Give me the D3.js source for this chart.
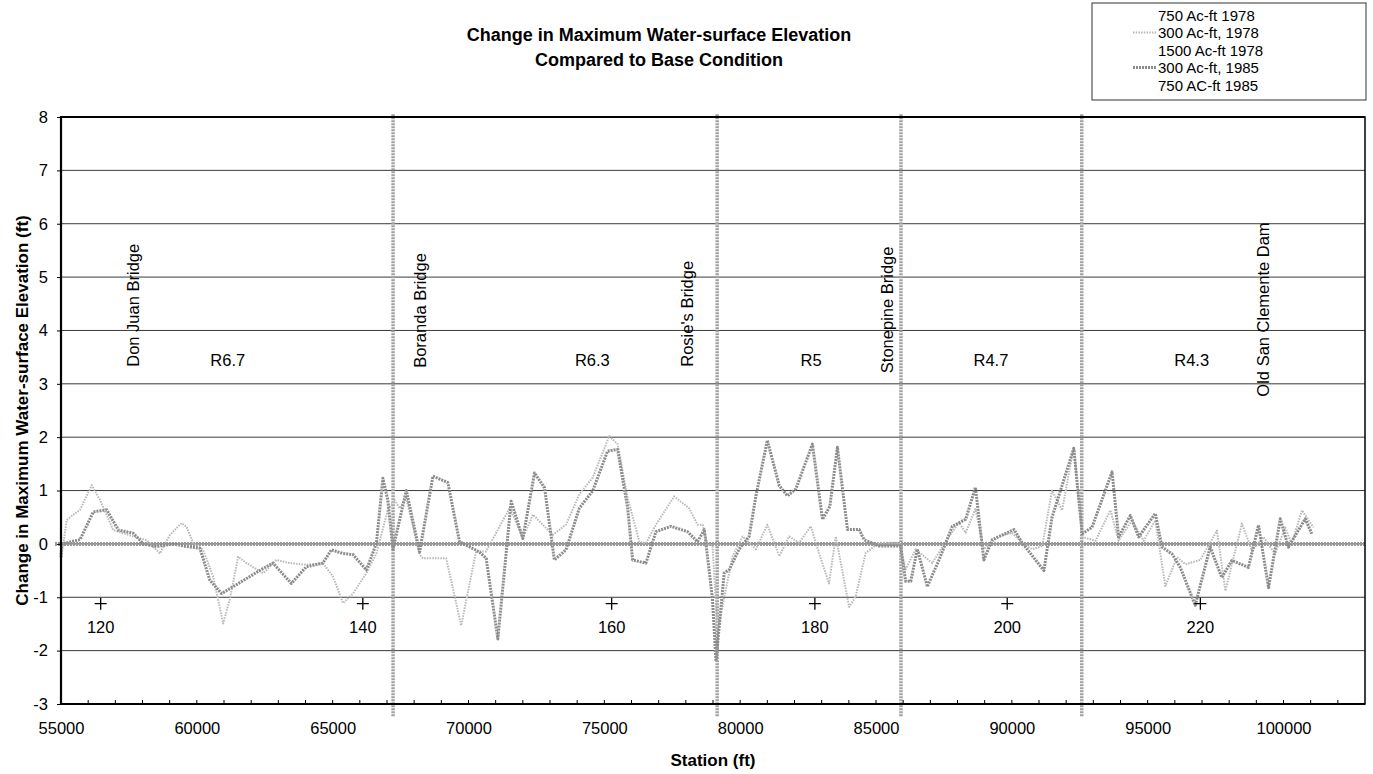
<!DOCTYPE html>
<html>
<head>
<meta charset="utf-8">
<script src="https://cdn.jsdelivr.net/npm/d3@7"></script>
<style>
  body { margin: 0; background: #fff; }
  svg { display: block; font-family: "Liberation Sans", Arial, sans-serif; }
</style>
</head>
<body>
<svg id="chart" width="1373" height="774"></svg>
<script>
// station (ft) and change in max water-surface elevation (ft)
const stations85 = [55000, 55030, 55700, 56190, 56680, 57110, 57660, 58030, 58520, 59130, 59620, 60110, 60480, 60910, 61340, 62440,
  62800, 63480, 64030, 64640, 64950, 65380, 65750, 66240, 66610, 66850, 67030, 67220, 67710, 68200, 68690, 69240, 69670, 70400,
  70650, 71080, 71570, 72000, 72430, 72800, 73160, 73590, 74080, 74570, 75120, 75490, 75860, 76040, 76530, 76900, 77450, 78060,
  78430, 78680, 78980, 79110, 79410, 79600, 79960, 80330, 80580, 81000, 81440, 81740, 82050, 82660, 83030, 83300, 83580, 83950,
  84380, 84560, 85110, 85910, 86090, 86280, 86520, 86890, 87320, 87810, 88300, 88660, 88970, 89280, 90080, 90380, 91180, 91480,
  92280, 92590, 92950, 93690, 93930, 94360, 94670, 95280, 95530, 95900, 96200, 96750, 97300, 97730, 98100, 98710, 99080, 99450,
  99880, 100180, 100800, 101040];
const change85 = [-0.25, 0.0, 0.08, 0.6, 0.64, 0.26, 0.2, 0.0, -0.05, 0.0, -0.05, -0.08, -0.68, -0.93, -0.8, -0.46,
  -0.36, -0.74, -0.43, -0.36, -0.11, -0.18, -0.2, -0.49, 0.01, 1.23, 0.82, -0.1, 1.0, -0.15, 1.27, 1.15, 0.04, -0.15,
  -0.27, -1.78, 0.8, 0.1, 1.33, 1.05, -0.3, -0.11, 0.67, 0.99, 1.74, 1.77, 0.67, -0.3, -0.36, 0.23, 0.33, 0.23,
  0.04, 0.27, -1.03, -2.2, -0.55, -0.48, -0.1, 0.14, 0.9, 1.94, 1.09, 0.9, 1.03, 1.87, 0.46, 0.7, 1.81, 0.27,
  0.27, 0.08, -0.04, -0.04, -0.7, -0.7, -0.1, -0.8, -0.3, 0.33, 0.46, 1.06, -0.3, 0.08, 0.27, 0.02, -0.5, 0.5,
  1.79, 0.19, 0.31, 1.35, 0.13, 0.53, 0.13, 0.57, -0.06, -0.19, -0.44, -1.15, -0.06, -0.63, -0.31, -0.44, 0.35, -0.82,
  0.47, -0.06, 0.47, 0.19];

const stations78 = [55000, 55210, 55700, 56130, 56430, 56920, 57660, 58150, 58640, 59010, 59440, 59620, 59870, 60230, 60600, 60970,
  61210, 61520, 61830, 62440, 62930, 63420, 64030, 64640, 65010, 65380, 65750, 66240, 66610, 67030, 67280, 67460, 67710, 68200,
  68320, 69180, 69730, 70280, 70650, 71510, 71700, 72000, 72370, 72730, 73100, 73590, 74080, 74570, 75180, 75490, 75860, 76290,
  76530, 76900, 77570, 78120, 78430, 78620, 78800, 78980, 79170, 79720, 80090, 80580, 81000, 81440, 81800, 82170, 82600, 82900,
  83270, 83520, 84010, 84250, 84620, 85110, 85850, 86090, 86460, 87070, 87690, 88050, 88300, 88660, 88970, 89520, 90010, 90380,
  90750, 91120, 91480, 91850, 92280, 92590, 93080, 93630, 93930, 94420, 94850, 95280, 95650, 96080, 96390, 96940, 97550, 97860,
  98470, 98840, 99260, 99690, 100060, 100300, 100680, 101100];
const change78 = [-0.3, 0.45, 0.64, 1.1, 0.83, 0.26, 0.14, 0.07, -0.18, 0.17, 0.39, 0.32, 0.01, -0.11, -0.61, -1.49,
  -1.05, -0.24, -0.36, -0.55, -0.3, -0.36, -0.39, -0.36, -0.61, -1.11, -0.93, -0.55, -0.18, 0.64, 0.82, 0.67, 0.86, -0.2,
  -0.27, -0.27, -1.53, -0.14, -0.14, 0.67, 0.48, 0.1, 0.55, 0.36, 0.17, 0.36, 0.93, 1.24, 2.02, 1.87, 0.86, 0.04,
  0.01, 0.36, 0.89, 0.67, 0.36, 0.36, -0.02, -0.02, -1.62, -0.23, 0.14, -0.1, 0.36, -0.23, 0.14, 0.02, 0.33, -0.17,
  -0.74, 0.14, -1.18, -0.99, -0.17, 0.02, 0.02, -0.48, -0.1, -0.36, 0.14, 0.4, 0.21, 0.65, -0.1, 0.14, 0.21, 0.02,
  -0.1, -0.04, 1.0, 0.63, 1.82, 0.13, 0.06, 0.63, 0.06, 0.44, 0.06, 0.44, -0.79, -0.25, -0.38, -0.3, 0.25, -0.88,
  0.38, -0.13, 0.13, -0.19, 0.31, 0.0, 0.63, 0.31];

// vertical marker lines at bridges
const bridgeLines = [67224, 79154, 85919, 92574];
const bridgeNames = ["Don Juan Bridge", "Boranda Bridge", "Rosie's Bridge", "Stonepine Bridge", "Old San Clemente Dam"];
const bridgeLabelX = [57650, 68200, 78050, 85400, 99230];
const bridgeLabelY = [3.32, 3.3, 3.32, 3.2, 2.76];

const reachNames = ["R6.7", "R6.3", "R5", "R4.7", "R4.3"];
const reachX = [61140, 74560, 82610, 89230, 96620];
const reachY = 3.45;

// cross section markers
const sectionX = [56460, 66110, 75270, 82750, 89830, 96940];
const sectionLabels = ["120", "140", "160", "180", "200", "220"];
const sectionY = -1.12;

const legendNames = ["750 Ac-ft 1978", "300 Ac-ft, 1978", "1500 Ac-ft 1978", "300 Ac-ft, 1985", "750 AC-ft 1985"];
const legendStyle = [null, "light", null, "dark", null];

const xTicks = d3.range(55000, 100001, 5000);
const yTicks = d3.range(-3, 9, 1);

const margin = { top: 117, right: 8, bottom: 70, left: 61 };
const width = 1373, height = 774;

const styles = {
  dark: { stroke: "#8c8c8c", width: 3, dash: "2,1" },
  light: { stroke: "#b8b8b8", width: 2, dash: "1.5,1.2" }
};

const svg = d3.select("#chart");

const x = d3.scaleLinear().domain([55000, 103000]).range([margin.left, width - margin.right]);
const y = d3.scaleLinear().domain([-3, 8]).range([height - margin.bottom, margin.top]);

// horizontal gridlines
svg.append("g")
  .selectAll("line")
  .data(yTicks.filter(d => d > -3 && d < 8))
  .join("line")
  .attr("x1", x.range()[0]).attr("x2", x.range()[1])
  .attr("y1", d => y(d)).attr("y2", d => y(d))
  .attr("stroke", "#3a3a3a")
  .attr("stroke-width", 1);

// baseline at zero
svg.append("line")
  .attr("x1", x(55000) - 6).attr("x2", x(103000))
  .attr("y1", y(0)).attr("y2", y(0))
  .attr("stroke", "#9a9a9a")
  .attr("stroke-width", 4)
  .attr("stroke-dasharray", "2,1");

// bridge lines
svg.append("g")
  .selectAll("line")
  .data(bridgeLines)
  .join("line")
  .attr("x1", d => x(d)).attr("x2", d => x(d))
  .attr("y1", y(8.05)).attr("y2", y(-3.25))
  .attr("stroke", "#a0a0a0")
  .attr("stroke-width", 3.5)
  .attr("stroke-dasharray", "2,1");

// series lines
const line = d3.line().x(d => x(d[0])).y(d => y(d[1]));
function drawSeries(st, vals, style) {
  svg.append("path")
    .datum(st.map((s, i) => [s, vals[i]]))
    .attr("d", line)
    .attr("fill", "none")
    .attr("stroke", style.stroke)
    .attr("stroke-width", style.width)
    .attr("stroke-dasharray", style.dash)
    .attr("stroke-linejoin", "round");
}
drawSeries(stations78, change78, styles.light);
drawSeries(stations85, change85, styles.dark);

// plot frame
svg.append("rect")
  .attr("x", x.range()[0]).attr("y", y(8))
  .attr("width", x.range()[1] - x.range()[0])
  .attr("height", y(-3) - y(8))
  .attr("fill", "none")
  .attr("stroke", "#000")
  .attr("stroke-width", 1.5);
svg.append("path")
  .attr("d", `M${x(103000)},${y(8)}H${x(55000)}V${y(-3)}H${x(103000)}`)
  .attr("fill", "none")
  .attr("stroke", "#000")
  .attr("stroke-width", 2.2);

// axes (plain hyphen for negatives, like the original)
const yAxis = svg.append("g")
  .attr("transform", `translate(${margin.left},0)`)
  .call(d3.axisLeft(y).tickValues(yTicks).tickFormat(d => String(d)).tickSize(4).tickPadding(9));
yAxis.select(".domain").remove();
yAxis.selectAll("text").attr("font-size", 16.5).attr("font-family", "Liberation Sans, Arial, sans-serif");

const xAxis = svg.append("g")
  .attr("transform", `translate(0,${y(-3)})`)
  .call(d3.axisBottom(x).tickValues(xTicks).tickFormat(d => String(d)).tickSize(0).tickPadding(18));
xAxis.select(".domain").remove();
xAxis.selectAll("text").attr("font-size", 16.5).attr("font-family", "Liberation Sans, Arial, sans-serif");

// minor ticks inside bottom axis
svg.append("g")
  .selectAll("line")
  .data(d3.range(56000, 103000, 1000))
  .join("line")
  .attr("x1", d => x(d)).attr("x2", d => x(d))
  .attr("y1", y(-3)).attr("y2", y(-3) - 4)
  .attr("stroke", "#000");

// bridge names, rotated
svg.append("g")
  .selectAll("text")
  .data(bridgeNames)
  .join("text")
  .attr("transform", (d, i) => `translate(${x(bridgeLabelX[i]) + 6},${y(bridgeLabelY[i])}) rotate(-90)`)
  .attr("font-size", 16.5)
  .text(d => d);

// reach labels
svg.append("g")
  .selectAll("text")
  .data(reachNames)
  .join("text")
  .attr("x", (d, i) => x(reachX[i]))
  .attr("y", y(reachY))
  .attr("text-anchor", "middle")
  .attr("dominant-baseline", "central")
  .attr("font-size", 16.5)
  .text(d => d);

// cross section markers
const sec = svg.append("g")
  .selectAll("g")
  .data(sectionX)
  .join("g")
  .attr("transform", d => `translate(${x(d)},${y(sectionY)})`);
sec.append("path")
  .attr("d", "M-6,0H6M0,-6V6")
  .attr("stroke", "#000")
  .attr("stroke-width", 1.3);
sec.append("text")
  .attr("y", 23)
  .attr("text-anchor", "middle")
  .attr("dominant-baseline", "central")
  .attr("font-size", 16.5)
  .text((d, i) => sectionLabels[i]);

// titles
const title = svg.append("text")
  .attr("x", 659)
  .attr("text-anchor", "middle")
  .attr("font-size", 18)
  .attr("font-weight", "bold");
title.append("tspan").attr("x", 659).attr("y", 41).text("Change in Maximum Water-surface Elevation");
title.append("tspan").attr("x", 659).attr("y", 66).text("Compared to Base Condition");

svg.append("text")
  .attr("transform", `translate(28,${(y(8) + y(-3)) / 2}) rotate(-90)`)
  .attr("text-anchor", "middle")
  .attr("font-size", 17)
  .attr("font-weight", "bold")
  .text("Change in Maximum Water-surface Elevation (ft)");

svg.append("text")
  .attr("x", (x.range()[0] + x.range()[1]) / 2)
  .attr("y", 766)
  .attr("text-anchor", "middle")
  .attr("font-size", 17)
  .attr("font-weight", "bold")
  .text("Station (ft)");

// legend
const legend = svg.append("g").attr("transform", "translate(1092,3)");
legend.append("rect")
  .attr("width", 274).attr("height", 97)
  .attr("fill", "#fff")
  .attr("stroke", "#333")
  .attr("stroke-width", 1);
const item = legend.selectAll("g.item")
  .data(legendNames)
  .join("g")
  .attr("class", "item")
  .attr("transform", (d, i) => `translate(0,${12 + i * 17.5})`);
item.filter((d, i) => legendStyle[i])
  .append("line")
  .attr("x1", 41).attr("x2", 65)
  .attr("stroke", d => styles[legendStyle[legendNames.indexOf(d)]].stroke)
  .attr("stroke-width", d => styles[legendStyle[legendNames.indexOf(d)]].width)
  .attr("stroke-dasharray", d => styles[legendStyle[legendNames.indexOf(d)]].dash);
item.append("text")
  .attr("x", 66)
  .attr("dominant-baseline", "central")
  .attr("font-size", 15)
  .text(d => d);
</script>
</body>
</html>
